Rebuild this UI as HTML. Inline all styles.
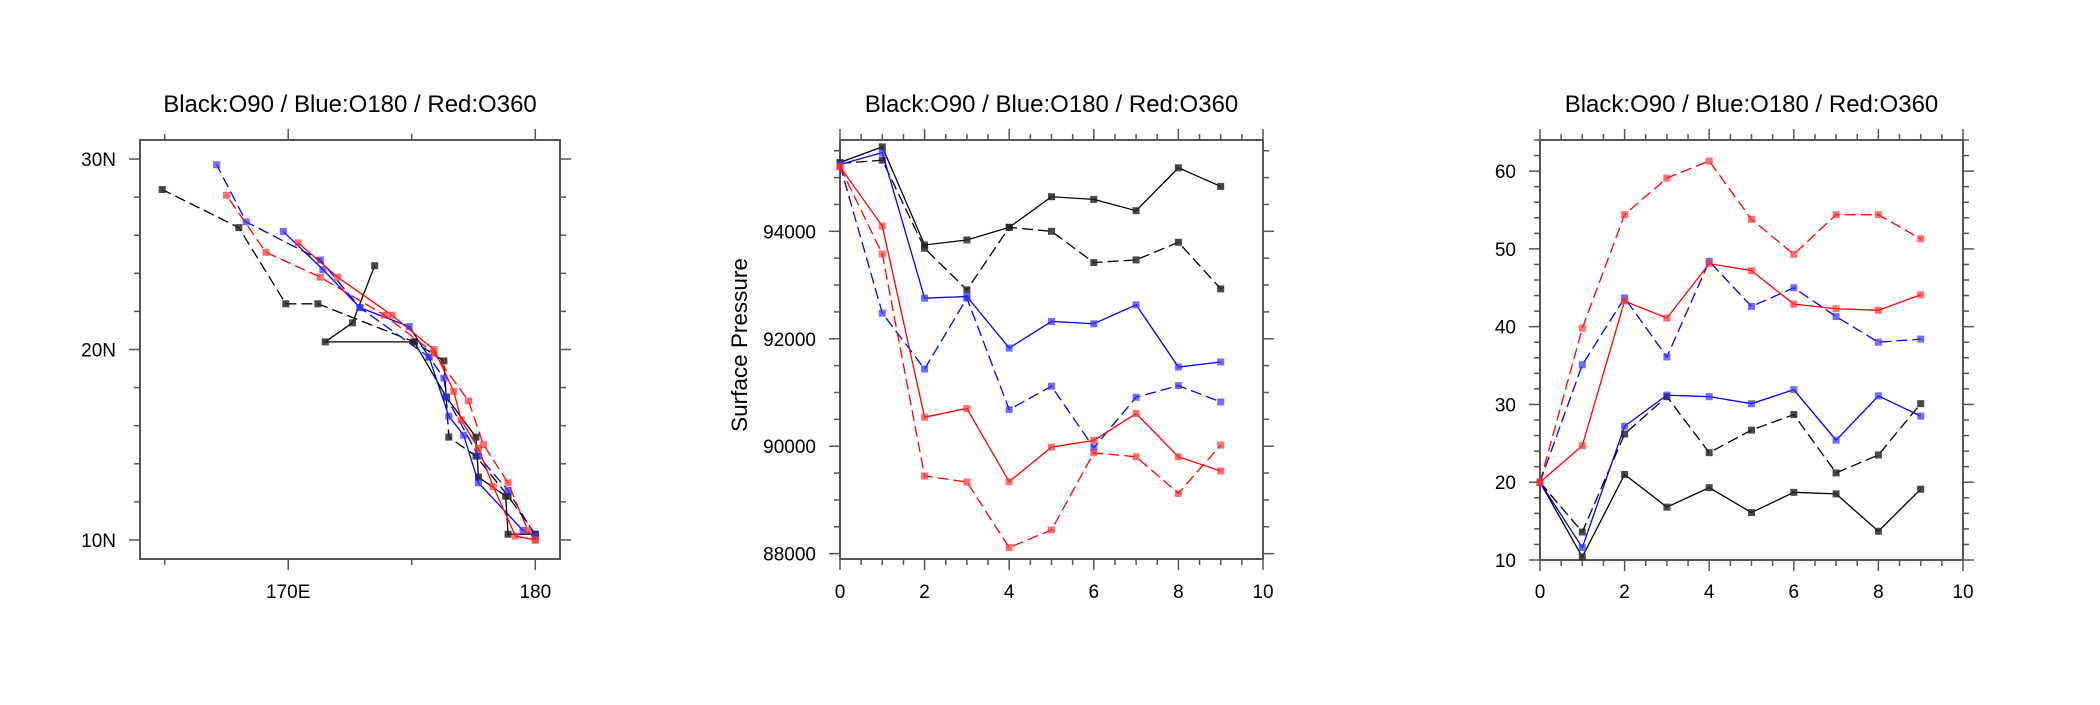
<!DOCTYPE html>
<html><head><meta charset="utf-8"><style>
body{margin:0;background:#fff;}
svg text{font-family:"Liberation Sans",sans-serif;fill:#000;}
</style></head><body>
<svg id="c" width="2100" height="700" viewBox="0 0 2100 700" xmlns="http://www.w3.org/2000/svg"></svg>
<script>
// ---- Panel 1: tracks (lon, lat) ----
const trkBlackSolidLon=[180,178.9,178.8,177.7,177.6,176.4,175.1,171.5,172.6,173.5];
const trkBlackSolidLat=[10.3,10.3,12.3,13.3,15.4,17.5,20.4,20.4,21.4,24.4];
const trkBlackDashLon=[180,178.9,177.6,176.5,176.3,175.1,171.2,169.9,168.0,164.9];
const trkBlackDashLat=[10.3,12.3,14.4,15.4,19.4,20.4,22.4,22.4,26.4,28.4];
const trkBlueSolidLon=[180,179.5,177.7,177.1,176.5,175.7,174.9,172.9,171.4,169.8];
const trkBlueSolidLat=[10.2,10.5,13.0,15.5,16.5,19.6,21.2,22.2,24.2,26.2];
const trkBlueDashLon=[180,178.9,177.7,176.4,176.3,175.7,172.9,171.3,168.3,167.1];
const trkBlueDashLat=[10.2,12.6,14.4,17.5,18.5,19.6,22.2,24.7,26.7,29.7];
const trkRedSolidLon=[180,179.2,178.3,177.7,177.0,176.7,175.9,174.2,172.0,170.4];
const trkRedSolidLat=[10.0,10.2,12.8,14.8,16.3,17.8,20.0,21.8,23.8,25.6];
const trkRedDashLon=[180,179.7,178.9,177.9,177.3,175.9,173.9,171.3,169.1,167.5];
const trkRedDashLat=[10.0,10.5,13.0,15.0,17.3,19.8,21.8,23.8,25.1,28.1];
// ---- Panel 2: surface pressure ----
const stepX=[0,1,2,3,4,5,6,7,8,9];
const psBlackSolid=[95281,95572,93746,93839,94074,94644,94594,94384,95182,94836];
const psBlackDash=[95263,95325,93684,92910,94074,94000,93418,93468,93796,92929];
const psBlueSolid=[95244,95467,92756,92787,91827,92322,92279,92632,91474,91567];
const psBlueDash=[95232,92477,91437,92756,90682,91116,89970,90911,91128,90824];
const psRedSolid=[95201,94099,90540,90701,89339,89983,90107,90608,89803,89537];
const psRedDash=[95201,93579,89444,89333,88113,88441,89877,89803,89122,90020];
// ---- Panel 3: wind ----
const wBlackSolid=[20,10.4,21.0,16.8,19.3,16.1,18.7,18.5,13.7,19.1];
const wBlackDash=[20,13.6,26.2,31.0,23.8,26.7,28.7,21.2,23.5,30.1];
const wBlueSolid=[20,11.6,27.2,31.2,31.0,30.1,31.9,25.4,31.1,28.5];
const wBlueDash=[20,35.1,43.7,36.1,48.4,42.6,45.0,41.3,38.0,38.4];
const wRedSolid=[20,24.7,43.3,41.1,48.1,47.2,42.9,42.3,42.1,44.1];
const wRedDash=[20,39.8,54.4,59.1,61.3,53.8,49.3,54.4,54.4,51.3];
const titleText="Black:O90 / Blue:O180 / Red:O360";

const NS="http://www.w3.org/2000/svg";
const svg=document.getElementById('c');
function mk(tag,attrs,parent){const e=document.createElementNS(NS,tag);for(const k in attrs)e.setAttribute(k,attrs[k]);(parent||svg).appendChild(e);return e;}
const COL={k:'#000',b:'#0000ff',r:'#ff0000'};
const MCOL={k:'rgba(40,40,40,0.85)',b:'rgba(50,50,255,0.7)',r:'rgba(255,50,50,0.7)'};
const TFS=19;

function panel(name,L,R,T,B,xmin,xmax,ymin,ymax){
  const g=mk('g',{});
  
  
  const sx=v=>L+(v-xmin)/(xmax-xmin)*(R-L);
  const sy=v=>B-(v-ymin)/(ymax-ymin)*(B-T);
  return {g,sx,sy,L,R,T,B};
}
function frame(p){
  const f=mk('rect',{x:p.L,y:p.T,width:p.R-p.L,height:p.B-p.T,fill:'none',stroke:'#555',"stroke-width":2},p.g);
  
  
}
function xticks(p,vals,len){vals.forEach(v=>{const x=p.sx(v);
  mk('line',{x1:x,x2:x,y1:p.B,y2:p.B+len,stroke:'#555',"stroke-width":1.5},p.g);
  mk('line',{x1:x,x2:x,y1:p.T,y2:p.T-len,stroke:'#555',"stroke-width":1.5},p.g);});}
function yticks(p,vals,len){vals.forEach(v=>{const y=p.sy(v);
  mk('line',{x1:p.L,x2:p.L-len,y1:y,y2:y,stroke:'#555',"stroke-width":1.5},p.g);
  mk('line',{x1:p.R,x2:p.R+len,y1:y,y2:y,stroke:'#555',"stroke-width":1.5},p.g);});}
function label(p,txt,x,y,anchor,size,name){
  const t=mk('text',{x:x,y:y,"text-anchor":anchor,"font-size":size},p.g);t.textContent=txt;
  
  
  return t;
}
function series(p,xs,ys,c,dash,name){
  const pts=xs.map((x,i)=>p.sx(x)+','+p.sy(ys[i])).join(' ');
  const l=mk('polyline',{points:pts,fill:'none',stroke:COL[c],"stroke-width":1.3,"stroke-dasharray":dash?'11,5':'none'},p.g);
  
  
  xs.forEach((x,i)=>{
    const m=mk('rect',{x:p.sx(x)-3.5,y:p.sy(ys[i])-3.5,width:7,height:7,fill:MCOL[c]},p.g);
    
    
  });
}
function title(p){label(p,titleText,(p.L+p.R)/2,112,'middle',24,'chart-title');}

// Panel 1
const p1=panel('track-panel',140,560,140,559,164,181,9,31);
frame(p1);
xticks(p1,[170,180],11);xticks(p1,[165,175],6);
yticks(p1,[10,20,30],11);yticks(p1,[12,14,16,18,22,24,26,28],6);
label(p1,'170E',p1.sx(170),598,'middle',TFS,'x-tick-label');
label(p1,'180',p1.sx(180),598,'middle',TFS,'x-tick-label');
[[10,'10N'],[20,'20N'],[30,'30N']].forEach(a=>label(p1,a[1],p1.L-24,p1.sy(a[0])+7,'end',TFS,'y-tick-label'));
title(p1);
series(p1,trkBlackDashLon,trkBlackDashLat,'k',true,'o90-dashed-track');
series(p1,trkBlackSolidLon,trkBlackSolidLat,'k',false,'o90-solid-track');
series(p1,trkBlueDashLon,trkBlueDashLat,'b',true,'o180-dashed-track');
series(p1,trkBlueSolidLon,trkBlueSolidLat,'b',false,'o180-solid-track');
series(p1,trkRedDashLon,trkRedDashLat,'r',true,'o360-dashed-track');
series(p1,trkRedSolidLon,trkRedSolidLat,'r',false,'o360-solid-track');

// Panel 2
const p2=panel('pressure-panel',840,1263,140,559,0,10,87900,95700);
frame(p2);
xticks(p2,[0,2,4,6,8,10],11);
xticks(p2,[0.5,1,1.5,2.5,3,3.5,4.5,5,5.5,6.5,7,7.5,8.5,9,9.5],6);
yticks(p2,[88000,90000,92000,94000],11);
yticks(p2,[88500,89000,89500,90500,91000,91500,92500,93000,93500,94500,95000,95500],6);
[0,2,4,6,8,10].forEach(v=>label(p2,String(v),p2.sx(v),598,'middle',TFS,'x-tick-label'));
[88000,90000,92000,94000].forEach(v=>label(p2,String(v),p2.L-24,p2.sy(v)+7,'end',TFS,'y-tick-label'));
const yl=label(p2,'Surface Pressure',0,0,'middle',22.5,'y-axis-title');
yl.setAttribute('transform','translate(747,345) rotate(-90)');
title(p2);
series(p2,stepX,psBlackDash,'k',true,'o90-dashed-pressure');
series(p2,stepX,psBlackSolid,'k',false,'o90-solid-pressure');
series(p2,stepX,psBlueDash,'b',true,'o180-dashed-pressure');
series(p2,stepX,psBlueSolid,'b',false,'o180-solid-pressure');
series(p2,stepX,psRedDash,'r',true,'o360-dashed-pressure');
series(p2,stepX,psRedSolid,'r',false,'o360-solid-pressure');

// Panel 3
const p3=panel('wind-panel',1540,1963,140,560,0,10,10,64);
frame(p3);
xticks(p3,[0,2,4,6,8,10],11);
xticks(p3,[0.5,1,1.5,2.5,3,3.5,4.5,5,5.5,6.5,7,7.5,8.5,9,9.5],6);
yticks(p3,[10,20,30,40,50,60],11);
const ym=[];for(let v=12;v<=64;v+=2){if(v%10)ym.push(v);}
yticks(p3,ym,6);
[0,2,4,6,8,10].forEach(v=>label(p3,String(v),p3.sx(v),598,'middle',TFS,'x-tick-label'));
[10,20,30,40,50,60].forEach(v=>label(p3,String(v),p3.L-24,p3.sy(v)+7,'end',TFS,'y-tick-label'));
title(p3);
series(p3,stepX,wBlackDash,'k',true,'o90-dashed-wind');
series(p3,stepX,wBlackSolid,'k',false,'o90-solid-wind');
series(p3,stepX,wBlueDash,'b',true,'o180-dashed-wind');
series(p3,stepX,wBlueSolid,'b',false,'o180-solid-wind');
series(p3,stepX,wRedDash,'r',true,'o360-dashed-wind');
series(p3,stepX,wRedSolid,'r',false,'o360-solid-wind');
</script>
</body></html>
